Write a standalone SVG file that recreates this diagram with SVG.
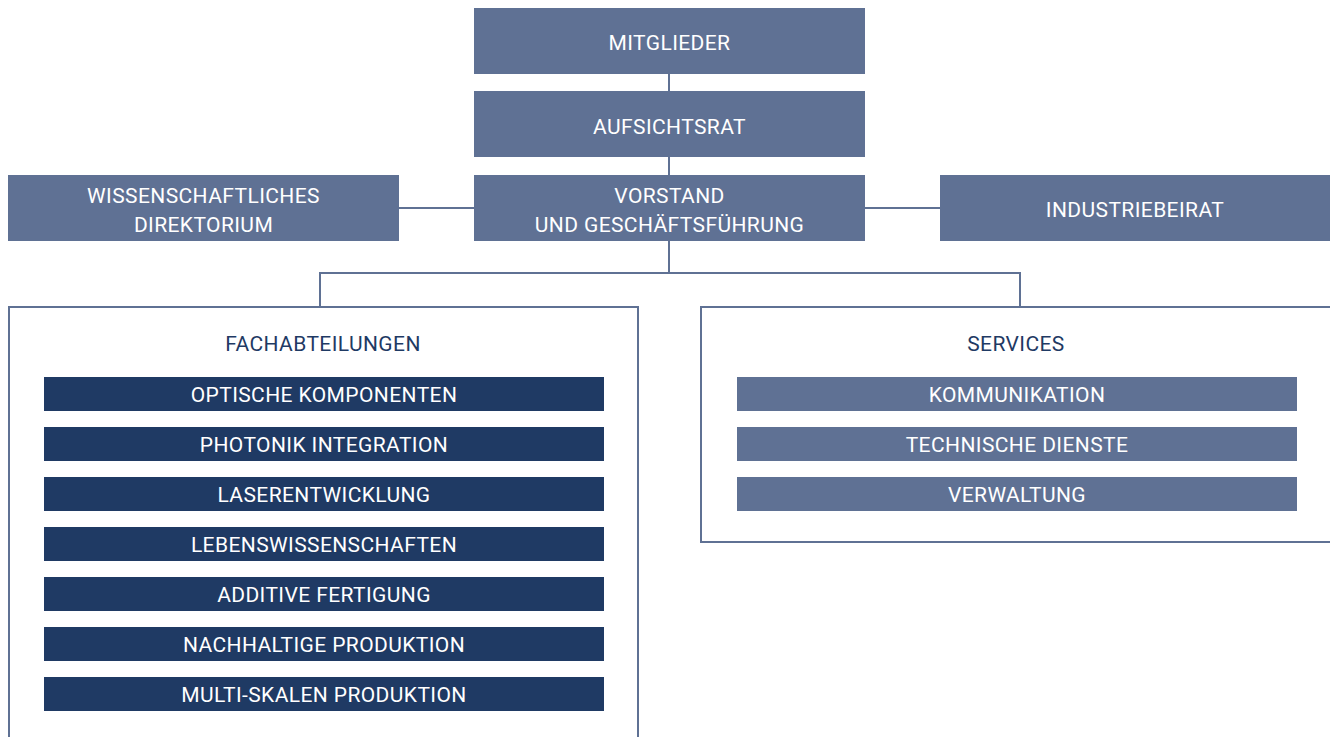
<svg xmlns="http://www.w3.org/2000/svg" width="1330" height="737" viewBox="0 0 1330 737">
<style>
.top{fill:#5f7194}
.dark{fill:#1f3a64}
.lite{fill:#5f7194}
.t{font-family:Roboto,"Liberation Sans",sans-serif;font-size:21px;letter-spacing:0.4px;fill:#ffffff;text-anchor:middle}
.h{font-family:Roboto,"Liberation Sans",sans-serif;font-size:21px;letter-spacing:0.4px;fill:#1f3a64;text-anchor:middle}
.ln{stroke:#5f7194;stroke-width:2;fill:none}
.frame{stroke:#5f7194;stroke-width:2;fill:#ffffff}
</style>
<rect width="1330" height="737" fill="#ffffff"/>
<g id="connectors">
<line class="ln" x1="669" y1="74" x2="669" y2="91"/>
<line class="ln" x1="669" y1="157" x2="669" y2="175"/>
<line class="ln" x1="399" y1="208" x2="474" y2="208"/>
<line class="ln" x1="865" y1="208" x2="940" y2="208"/>
<polyline class="ln" points="669,241 669,273"/>
<polyline class="ln" points="320,307 320,273 1020,273 1020,307"/>
</g>
<g id="fachabteilungen">
<rect class="frame" x="9" y="307" width="629" height="440"/>
<text class="h" x="323" y="351">FACHABTEILUNGEN</text>
</g>
<g id="services">
<rect class="frame" x="701" y="307" width="640" height="235"/>
<text class="h" x="1016" y="351">SERVICES</text>
</g>
<g id="mitglieder"><rect class="top" x="474" y="8" width="391" height="66"/><text class="t" x="669.5" y="50">MITGLIEDER</text></g>
<g id="aufsichtsrat"><rect class="top" x="474" y="91" width="391" height="66"/><text class="t" x="669.5" y="134">AUFSICHTSRAT</text></g>
<g id="vorstand"><rect class="top" x="474" y="175" width="391" height="66"/><text class="t" x="669.5" y="203">VORSTAND</text><text class="t" x="669.5" y="232">UND GESCHÄFTSFÜHRUNG</text></g>
<g id="direktorium"><rect class="top" x="8" y="175" width="391" height="66"/><text class="t" x="203.5" y="203">WISSENSCHAFTLICHES</text><text class="t" x="203.5" y="232">DIREKTORIUM</text></g>
<g id="industriebeirat"><rect class="top" x="940" y="175" width="390" height="66"/><text class="t" x="1135" y="217">INDUSTRIEBEIRAT</text></g>
<g id="optische"><rect class="dark" x="44" y="377" width="560" height="34"/><text class="t" x="324" y="402">OPTISCHE KOMPONENTEN</text></g>
<g id="photonik"><rect class="dark" x="44" y="427" width="560" height="34"/><text class="t" x="324" y="452">PHOTONIK INTEGRATION</text></g>
<g id="laser"><rect class="dark" x="44" y="477" width="560" height="34"/><text class="t" x="324" y="502">LASERENTWICKLUNG</text></g>
<g id="leben"><rect class="dark" x="44" y="527" width="560" height="34"/><text class="t" x="324" y="552">LEBENSWISSENSCHAFTEN</text></g>
<g id="additive"><rect class="dark" x="44" y="577" width="560" height="34"/><text class="t" x="324" y="602">ADDITIVE FERTIGUNG</text></g>
<g id="nachhaltig"><rect class="dark" x="44" y="627" width="560" height="34"/><text class="t" x="324" y="652">NACHHALTIGE PRODUKTION</text></g>
<g id="multiskalen"><rect class="dark" x="44" y="677" width="560" height="34"/><text class="t" x="324" y="702">MULTI-SKALEN PRODUKTION</text></g>
<g id="kommunikation"><rect class="lite" x="737" y="377" width="560" height="34"/><text class="t" x="1017" y="402">KOMMUNIKATION</text></g>
<g id="technische"><rect class="lite" x="737" y="427" width="560" height="34"/><text class="t" x="1017" y="452">TECHNISCHE DIENSTE</text></g>
<g id="verwaltung"><rect class="lite" x="737" y="477" width="560" height="34"/><text class="t" x="1017" y="502">VERWALTUNG</text></g>
</svg>
